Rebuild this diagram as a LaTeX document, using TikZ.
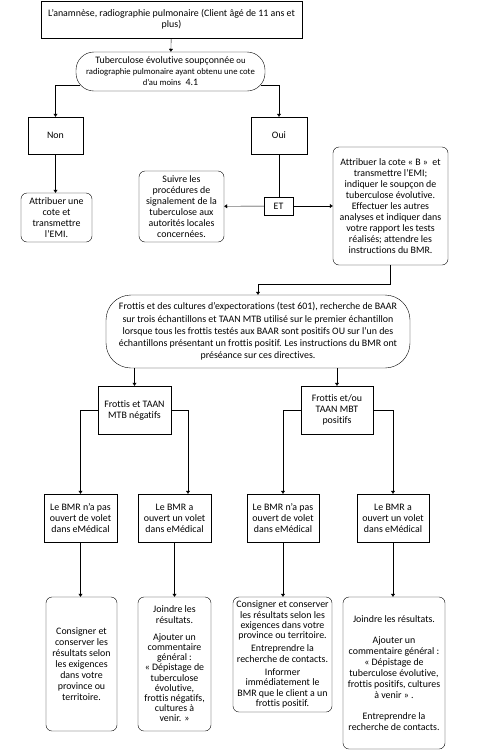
\documentclass[tikz,border=0pt]{standalone}
\usepackage{fontspec}
\setmainfont{Carlito}[Ligatures=CommonOff]
\usepackage{tikz}
\usetikzlibrary{positioning,arrows.meta}

\begin{document}
\begin{tikzpicture}[x=1pt, y=-1pt,
      every node/.style={font=\fontsize{9.9}{11}\selectfont},
      stepbox/.style={draw, thin, align=center, inner sep=1pt},
      roundbox/.style={stepbox, rounded corners=6pt},
      oval/.style={stepbox, rounded corners=18pt},
      rel/.style={-{Triangle[width=4pt,length=3pt]}, thin},
      plain/.style={thin}
    ]
    \useasboundingbox (0,0) rectangle (485,753);
    \node[stepbox, minimum width=261pt, minimum height=37pt] at (171.5,19.5) (history) {L’anamnèse, radiographie pulmonaire (Client âgé de 11 ans et\\plus)};
    \node[oval, minimum width=189pt, minimum height=39pt] at (170.5,71.5) (suspect) {Tuberculose évolutive soupçonnée {\fontsize{8.7}{10}\selectfont ou}\\{\fontsize{8.7}{10}\selectfont radiographie pulmonaire ayant obtenu une cote}\\{\fontsize{8.7}{10}\selectfont d’au moins}\ \ 4.1};
    \node[stepbox, minimum width=55pt, minimum height=37pt] at (55.5,135.5) (no) {Non};
    \node[stepbox, minimum width=56pt, minimum height=37pt] at (279,135.5) (yes) {Oui};
    \node[roundbox, minimum width=71pt, minimum height=49pt] at (56.5,217.5) (grade) {Attribuer une\\cote et\\transmettre\\l’EMI.};
    \node[stepbox, minimum width=29pt, minimum height=18pt] at (278.5,206) (and) {ET};
    \node[roundbox, minimum width=85pt, minimum height=71pt] at (181.5,206.5) (report) {Suivre les\\procédures de\\signalement de la\\tuberculose aux\\autorités locales\\concernées.};
    \node[roundbox, minimum width=115pt, minimum height=118pt] at (390.5,206) (gradeb) {Attribuer la cote « B »\ \ et\\transmettre l’EMI;\\indiquer le soupçon de\\tuberculose évolutive.\\Effectuer les autres\\analyses et indiquer dans\\votre rapport les tests\\réalisés; attendre les\\instructions du BMR.};
    \node[stepbox, rounded corners=25pt, minimum width=304pt, minimum height=73pt, font=\fontsize{9.9}{12.2}\selectfont] at (258,331.5) (smear) {Frottis et des cultures d'expectorations (test 601), recherche de BAAR\\sur trois échantillons et TAAN MTB utilisé sur le premier échantillon\\lorsque tous les frottis testés aux BAAR sont positifs OU sur l'un des\\échantillons présentant un frottis positif. Les instructions du BMR ont\\préséance sur ces directives.};
    \node[stepbox, minimum width=73pt, minimum height=48pt] at (134.5,410) (negative) {Frottis et TAAN\\MTB négatifs};
    \node[stepbox, minimum width=72pt, minimum height=48pt] at (337,410) (positive) {Frottis et/ou\\TAAN MBT\\positifs};
    \node[stepbox, minimum width=73pt, minimum height=48pt] at (80.5,518) (negclosed) {Le BMR n’a pas\\ouvert de volet\\dans eMédical};
    \node[stepbox, minimum width=73pt, minimum height=48pt] at (174.5,518) (negopen) {Le BMR a\\ouvert un volet\\dans eMédical};
    \node[stepbox, minimum width=72pt, minimum height=48pt] at (283,518) (posclosed) {Le BMR n’a pas\\ouvert de volet\\dans eMédical};
    \node[stepbox, minimum width=72pt, minimum height=48pt] at (393,518) (posopen) {Le BMR a\\ouvert un volet\\dans eMédical};
    \node[roundbox, minimum width=71pt, minimum height=134pt] at (81.5,664) (negkeep) {Consigner et\\conserver les\\résultats selon\\les exigences\\dans votre\\province ou\\territoire.};
    \node[roundbox, minimum width=73pt, minimum height=134pt, font=\fontsize{9.9}{10.2}\selectfont] at (174.5,664) (negjoin) {Joindre les\\résultats.\\[7pt]Ajouter un\\commentaire\\général :\\« Dépistage de\\tuberculose\\évolutive,\\frottis négatifs,\\cultures à\\venir. »};
    \node[roundbox, minimum width=99pt, minimum height=115pt, font=\fontsize{9.9}{10.3}\selectfont] at (282.5,654.5) (poskeep) {Consigner et conserver\\les résultats selon les\\exigences dans votre\\province ou territoire.\\[3pt]Entreprendre la\\recherche de contacts.\\[3pt]Informer\\immédiatement le\\BMR que le client a un\\frottis positif.};
    \node[roundbox, minimum width=102pt, minimum height=152pt] at (394,673) (posjoin) {Joindre les résultats.\\[10pt]Ajouter un\\commentaire général :\\« Dépistage de\\tuberculose évolutive,\\frottis positifs, cultures\\à venir » .\\[10pt]Entreprendre la\\recherche de contacts.};

    \draw[rel] (history) -- (suspect);
    \draw[rel] ([xshift=4pt,yshift=-13.5pt]suspect.west) -| (no);
    \draw[rel] ([xshift=-4pt,yshift=-13.5pt]suspect.east) -| (yes);
    \draw[rel] (no.south) -- (no.south |- grade.north);
    \draw[plain] (yes.south) -- (yes.south |- and.north);
    \draw[rel] (and) -- (report);
    \draw[rel] (and) -- (gradeb);
    \draw[rel] (gradeb.south) -- ++(0,19) -| (smear.north);
    \draw[rel] (smear.south -| negative) -- (negative);
    \draw[rel] (smear.south -| positive) -- (positive);
    \draw[rel] (negative.west) -| (negclosed);
    \draw[rel] (negative.east) -| ([xshift=13.5pt]negopen.north);
    \draw[rel] (positive.west) -| (posclosed);
    \draw[rel] (positive.east) -| (posopen);
    \draw[rel] (negclosed.south) -- (negclosed.south |- negkeep.north);
    \draw[rel] (negopen.south) -- (negjoin);
    \draw[rel] (posclosed.south) -- (posclosed.south |- poskeep.north);
    \draw[rel] (posopen.south) -- (posopen.south |- posjoin.north);
  \end{tikzpicture}
\end{document}
